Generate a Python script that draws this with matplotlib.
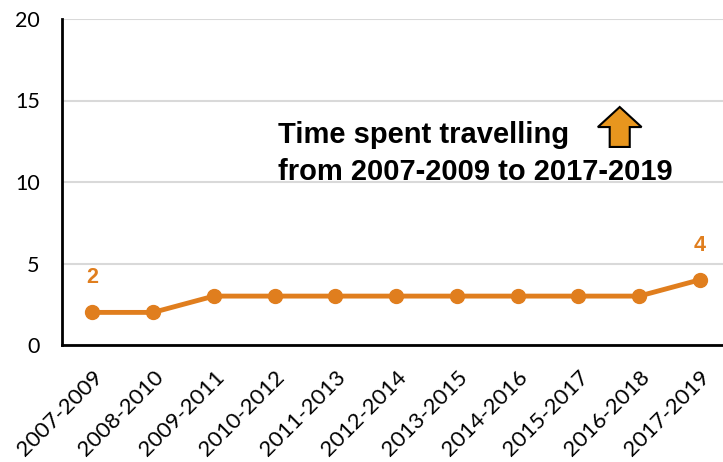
import matplotlib.pyplot as plt
from matplotlib.patches import FancyArrow

plt.rcParams['font.family'] = ['Lato', 'DejaVu Sans']

periods = ['2007-2009', '2008-2010', '2009-2011', '2010-2012', '2011-2013',
           '2012-2014', '2013-2015', '2014-2016', '2015-2017', '2016-2018',
           '2017-2019']
values = [2, 2, 3, 3, 3, 3, 3, 3, 3, 3, 4]

orange = '#E07E1E'
bold_font = ['Liberation Sans', 'DejaVu Sans']

fig = plt.figure(figsize=(7.23, 4.62), dpi=100)
ax = fig.add_axes([62/723, 1 - 345/462, 1 - 62/723, (345 - 19)/462])

x = range(len(periods))
ax.plot(x, values, color=orange, linewidth=3.5, marker='o', markersize=10,
        solid_capstyle='round', zorder=3)

ax.set_ylim(0, 20)
ax.set_xlim(-0.5, 10.38)
ax.set_yticks([0, 5, 10, 15, 20])
ax.set_xticks(list(x))
ax.set_xticklabels(periods, rotation=45, ha='right', rotation_mode='anchor')
ax.tick_params(axis='both', length=0, labelsize=15.5)
ax.tick_params(axis='x', labelsize=16, pad=16)
ax.tick_params(axis='y', pad=16)
ax.grid(axis='y', color='#D9D9D9', linewidth=1.5)
ax.set_axisbelow(True)
for side in ['top', 'right']:
    ax.spines[side].set_visible(False)
for side in ['left', 'bottom']:
    ax.spines[side].set_linewidth(2)
    ax.spines[side].set_color('black')

# first and last values
for i in (0, len(values) - 1):
    ax.annotate(str(values[i]), (i, values[i]), xytext=(0, 25), textcoords='offset points',
                ha='center', va='center', color=orange, fontsize=15.5, fontweight='bold',
                family=bold_font)

ax.text(3.05, 10.12, 'Time spent travelling\nfrom 2007-2009 to 2017-2019',
        fontsize=21, fontweight='bold', ha='left', va='baseline', linespacing=1.4,
        family=bold_font)

arrow = FancyArrow(8.68, 12.15, 0, 2.45, width=0.33, head_width=0.72, head_length=1.23,
                   length_includes_head=True, facecolor='#E8961E', edgecolor='black',
                   linewidth=1.5, zorder=4)
ax.add_patch(arrow)

fig.savefig('out.png', dpi=100)
